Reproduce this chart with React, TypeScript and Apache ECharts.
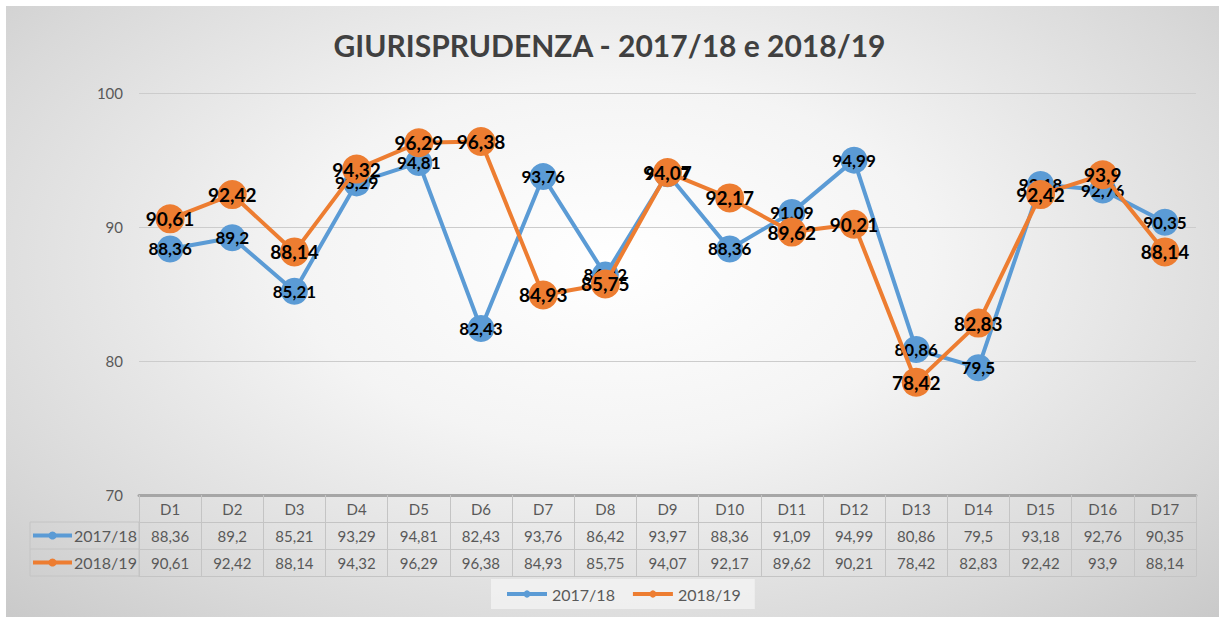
import React, { useEffect, useRef } from "react";
import * as echarts from "echarts";

const categories = ["D1","D2","D3","D4","D5","D6","D7","D8","D9","D10","D11","D12","D13","D14","D15","D16","D17"];
const seriesNames = ["2017/18", "2018/19"];
const values1718 = [88.36, 89.2, 85.21, 93.29, 94.81, 82.43, 93.76, 86.42, 93.97, 88.36, 91.09, 94.99, 80.86, 79.5, 93.18, 92.76, 90.35];
const values1819 = [90.61, 92.42, 88.14, 94.32, 96.29, 96.38, 84.93, 85.75, 94.07, 92.17, 89.62, 90.21, 78.42, 82.83, 92.42, 93.9, 88.14];
const yTicks = { min: 70, max: 100, interval: 10 };
const titleText = "GIURISPRUDENZA - 2017/18 e 2018/19";

const COLORS = ["#5b9bd5", "#ed7d31"];
const FONT = "Lato, 'Open Sans', sans-serif";
const fmt = (v: number) => String(v).replace(".", ",");

export default function App() {
  const ref = useRef<HTMLDivElement>(null);
  useEffect(() => {
    if (!ref.current) return;
    const chart = echarts.init(ref.current, undefined, { renderer: "svg" });
    const gridLeft = 139, gridRight = 23, gridTop = 93, gridBottom = 122;
    const H = 617;
    const axisY = H - gridBottom; // 495
    const rowH = 27;
    const labelColX = 30;
    const tableLine = "#c4c4c4";
    const textColor = "#595959";

    const makeRowAxis = (offset: number, vals: number[] | null) => ({
      type: "category",
      data: categories,
      position: "bottom",
      offset,
      gridIndex: 0,
      boundaryGap: true,
      axisLine: { show: true, lineStyle: { color: tableLine, width: 1 } },
      axisTick: { show: vals !== null, interval: 0, length: rowH, lineStyle: { color: tableLine } },
      axisLabel: {
        show: vals !== null,
        interval: 0,
        margin: 6,
        fontSize: 15,
        color: textColor,
        fontFamily: FONT,
        formatter: (_v: string, i: number) => (vals ? fmt(vals[i]) : ""),
      },
      splitLine: { show: false },
    });

    const graphics: any[] = [];
    graphics.push({
      type: "rect",
      shape: { x: labelColX, y: axisY + rowH, width: gridLeft - labelColX, height: rowH * 2 },
      style: { fill: "none", stroke: tableLine, lineWidth: 1 },
      silent: true,
    });
    graphics.push({
      type: "line",
      shape: { x1: labelColX, y1: axisY + rowH * 2, x2: gridLeft, y2: axisY + rowH * 2 },
      style: { stroke: tableLine, lineWidth: 1 },
      silent: true,
    });
    seriesNames.forEach((name, i) => {
      const cy = axisY + rowH * (i + 1) + rowH / 2;
      graphics.push({
        type: "line",
        shape: { x1: 33, y1: cy, x2: 72, y2: cy },
        style: { stroke: COLORS[i], lineWidth: 4 },
        silent: true,
      });
      graphics.push({
        type: "circle",
        shape: { cx: 52.5, cy, r: 4 },
        style: { fill: COLORS[i] },
        silent: true,
      });
      graphics.push({
        type: "text",
        style: {
          text: name,
          x: 74,
          y: cy,
          fill: textColor,
          font: `16px ${FONT}`,
          verticalAlign: "middle",
        },
        silent: true,
      });
    });

    chart.setOption({
      animation: false,
      backgroundColor: "transparent",
      title: {
        text: titleText,
        left: "center",
        top: 25,
        textStyle: { fontSize: 30, fontWeight: "bold", color: "#404040", fontFamily: FONT },
      },
      grid: { left: gridLeft, right: gridRight, top: gridTop, bottom: gridBottom },
      legend: {
        data: seriesNames,
        bottom: 8,
        left: 491,
        itemWidth: 40,
        itemHeight: 9,
        itemGap: 16,
        padding: [7, 14, 7, 14],
        backgroundColor: "rgba(242,242,242,0.85)",
        lineStyle: { width: 4 },
        textStyle: { fontSize: 16, color: textColor, fontFamily: FONT },
      },
      xAxis: [
        {
          type: "category",
          data: categories,
          position: "bottom",
          boundaryGap: true,
          axisLine: { show: true, lineStyle: { color: "#a6a6a6", width: 3 } },
          axisTick: { show: true, interval: 0, length: rowH, lineStyle: { color: tableLine } },
          axisLabel: { interval: 0, margin: 6, fontSize: 15, color: textColor, fontFamily: FONT },
          splitLine: { show: false },
        },
        makeRowAxis(rowH, values1718),
        makeRowAxis(rowH * 2, values1819),
        makeRowAxis(rowH * 3, null),
      ],
      yAxis: {
        type: "value",
        min: yTicks.min,
        max: yTicks.max,
        interval: yTicks.interval,
        axisLine: { show: false },
        axisTick: { show: false },
        axisLabel: { fontSize: 15, color: textColor, fontFamily: FONT, margin: 16 },
        splitLine: { lineStyle: { color: "#cccccc", width: 1 } },
      },
      series: [
        {
          name: seriesNames[0],
          type: "line",
          data: values1718,
          color: COLORS[0],
          symbol: "circle",
          symbolSize: 27,
          lineStyle: { width: 4, color: COLORS[0] },
          itemStyle: { color: COLORS[0] },
          label: {
            show: true,
            position: "inside",
            formatter: (p: any) => fmt(p.value),
            fontSize: 17,
            fontWeight: "bold",
            color: "#000",
            fontFamily: FONT,
          },
          z: 2,
        },
        {
          name: seriesNames[1],
          type: "line",
          data: values1819,
          color: COLORS[1],
          symbol: "circle",
          symbolSize: 29,
          lineStyle: { width: 4, color: COLORS[1] },
          itemStyle: { color: COLORS[1] },
          label: {
            show: true,
            position: "inside",
            formatter: (p: any) => fmt(p.value),
            fontSize: 19,
            fontWeight: "bold",
            color: "#000",
            fontFamily: FONT,
          },
          z: 3,
        },
      ],
      graphic: graphics,
    });
    return () => chart.dispose();
  }, []);

  return (
    <div style={{ position: "absolute", left: 0, top: 0, width: 1219, height: 617, background: "#fff", overflow: "hidden" }}>
      <div
        style={{
          position: "absolute",
          left: 6,
          top: 6,
          right: 0,
          bottom: 0,
          background: "radial-gradient(ellipse 75% 85% at 50% 42%, #ffffff 0%, #f4f4f4 35%, #d9d9d9 75%, #c6c6c6 100%)",
        }}
      />
      <div ref={ref} style={{ position: "absolute", left: 0, top: 0, width: 1219, height: 617 }} />
    </div>
  );
}
